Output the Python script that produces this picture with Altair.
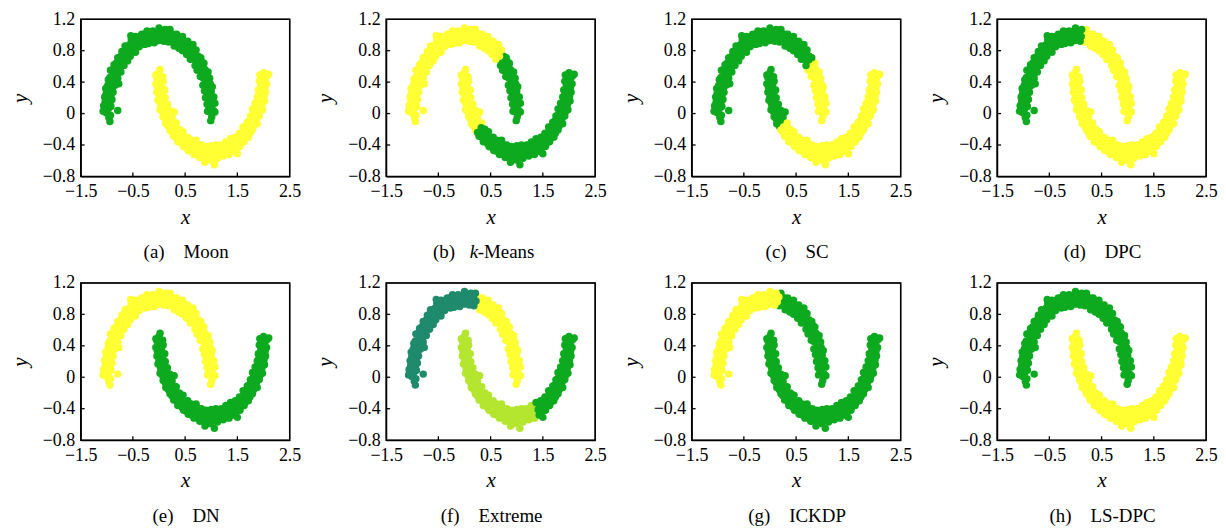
import altair as alt
import pandas as pd

# ---- data (same two-moon point set in every panel) ----
upper_x = [0.93, 1.01, 1.07, 0.99, 0.96, 1.04, 0.92, 0.99, 1.07, 0.96, 1.04, 0.89, 0.97, 1.05, 0.92, 1.00,
           0.87, 0.95, 1.02, 0.89, 0.98, 0.84, 0.91, 0.97, 0.85, 0.94, 0.79, 0.87, 0.94, 0.80, 0.88, 0.73,
           0.81, 0.86, 0.74, 0.82, 0.69, 0.74, 0.80, 0.67, 0.75, 0.60, 0.67, 0.71, 0.61, 0.64, 0.53, 0.59,
           0.65, 0.51, 0.58, 0.45, 0.50, 0.55, 0.43, 0.48, 0.38, 0.40, 0.45, 0.33, 0.38, 0.29, 0.30, 0.34,
           0.24, 0.28, 0.18, 0.22, 0.21, 0.14, 0.17, 0.09, 0.11, 0.12, 0.04, 0.06, -0.01, 0.01, 0.00, -0.06,
           -0.04, -0.09, -0.11, -0.12, -0.16, -0.15, -0.20, -0.20, -0.23, -0.24, -0.28, -0.27, -0.32, -0.33,
           -0.35, -0.36, -0.38, -0.40, -0.45, -0.43, -0.48, -0.45, -0.51, -0.53, -0.54, -0.53, -0.56, -0.55,
           -0.58, -0.65, -0.61, -0.64, -0.60, -0.67, -0.71, -0.69, -0.73, -0.67, -0.75, -0.79, -0.74, -0.82,
           -0.73, -0.81, -0.86, -0.80, -0.88, -0.79, -0.86, -0.93, -0.85, -0.94, -0.84, -0.91, -0.97, -0.77,
           -0.89, -0.98, -0.88, -0.95, -1.02, -0.92, -1.01, -0.90, -0.96, -1.04, -0.94, -1.03, -0.92, -0.99,
           -1.06, -0.97, -1.03, -0.93, -1.01, -1.07, -0.96, -0.79, -0.94]
upper_y = [0.03, -0.04, 0.02, -0.09, 0.07, 0.04, 0.12, 0.08, 0.13, 0.17, 0.14, 0.20, 0.23, 0.21, 0.24, 0.28,
           0.29, 0.30, 0.34, 0.35, 0.38, 0.36, 0.41, 0.45, 0.45, 0.46, 0.47, 0.51, 0.53, 0.53, 0.56, 0.55,
           0.59, 0.64, 0.61, 0.66, 0.61, 0.68, 0.71, 0.69, 0.73, 0.69, 0.73, 0.81, 0.74, 0.82, 0.75, 0.80,
           0.88, 0.82, 0.86, 0.80, 0.85, 0.92, 0.87, 0.92, 0.83, 0.92, 0.98, 0.91, 0.96, 0.86, 0.95, 1.01,
           0.94, 1.01, 0.91, 0.97, 1.07, 0.96, 1.02, 0.92, 0.98, 1.07, 0.95, 1.05, 0.93, 1.00, 1.09, 0.97,
           1.03, 0.90, 0.99, 1.05, 0.94, 1.04, 0.89, 0.99, 1.05, 0.92, 1.01, 0.88, 0.93, 1.01,
           0.89, 0.98, 0.85, 0.90, 0.98, 0.85, 0.93, 0.78, 0.86, 0.94, 0.99, 0.80, 0.88, 0.73,
           0.82, 0.86, 0.74, 0.80, 0.67, 0.73, 0.79, 0.67, 0.73, 0.61, 0.66, 0.71, 0.59, 0.64,
           0.53, 0.57, 0.62, 0.51, 0.56, 0.45, 0.49, 0.55, 0.43, 0.46, 0.36, 0.39, 0.43, 0.38,
           0.33, 0.36, 0.27, 0.30, 0.32, 0.24, 0.26, 0.18, 0.20, 0.21, 0.14, 0.15, 0.09, 0.11,
           0.10, 0.06, 0.04, -0.02, 0.01, 0.03, -0.05, 0.04, -0.10]
lower_x = [0.07, 0.00, -0.06, 0.02, 0.03, -0.04, 0.08, 0.01, -0.06, 0.05, -0.03, 0.11, 0.03, -0.04, 0.07, 0.00,
           0.12, 0.05, -0.02, 0.09, 0.03, 0.16, 0.09, 0.02, 0.15, 0.07, 0.21, 0.14, 0.08, 0.29, 0.20, 0.12,
           0.25, 0.19, 0.13, 0.26, 0.18, 0.33, 0.26, 0.21, 0.32, 0.25, 0.39, 0.33, 0.28, 0.41, 0.35, 0.46,
           0.42, 0.36, 0.48, 0.44, 0.55, 0.50, 0.47, 0.57, 0.52, 0.71, 0.62, 0.60, 0.56, 0.66, 0.62, 0.72,
           0.69, 0.67, 0.75, 0.73, 0.81, 0.80, 0.78, 0.85, 0.83, 0.90, 0.91, 0.88, 0.88, 0.95, 0.96, 1.00,
           1.01, 0.99, 1.06, 1.04, 1.06, 1.09, 1.11, 1.12, 1.15, 1.17, 1.19, 1.21, 1.23, 1.25, 1.27, 1.28,
           1.31, 1.34, 1.35, 1.36, 1.37, 1.41, 1.43, 1.44, 1.48, 1.50, 1.46, 1.50, 1.55, 1.53, 1.56, 1.54,
           1.59, 1.63, 1.61, 1.66, 1.61, 1.67, 1.71, 1.68, 1.74, 1.69, 1.75, 1.79, 1.74, 1.81, 1.75, 1.80,
           1.88, 1.80, 1.87, 1.79, 1.86, 1.92, 1.86, 1.93, 1.84, 1.91, 1.98, 1.90, 1.97, 1.88, 1.95, 2.02,
           1.92, 2.01, 1.90, 1.97, 2.04, 1.95, 2.03, 1.92, 2.00, 2.06, 1.96, 2.04, 1.93, 2.00, 2.07, 2.10]
lower_y = [0.47, 0.52, 0.49, 0.56, 0.44, 0.46, 0.41, 0.39, 0.38, 0.36, 0.33, 0.30, 0.29, 0.27, 0.26, 0.22,
           0.20, 0.18, 0.17, 0.16, 0.12, 0.12, 0.10, 0.05, 0.07, 0.02, 0.04, 0.00, -0.04, 0.02, -0.01, -0.07,
           -0.05, -0.10, -0.13, -0.11, -0.16, -0.12, -0.17, -0.21, -0.18, -0.24, -0.20, -0.25, -0.29, -0.26,
           -0.31, -0.23, -0.31, -0.36, -0.32, -0.38, -0.30, -0.36, -0.42, -0.37, -0.43, -0.34, -0.34, -0.42,
           -0.47, -0.41, -0.48, -0.38, -0.45, -0.52, -0.42, -0.51, -0.40, -0.47, -0.56, -0.45, -0.53, -0.42,
           -0.50, -0.57, -0.62, -0.47, -0.54, -0.41, -0.50, -0.59, -0.65, -0.45, -0.55, -0.40, -0.49, -0.57,
           -0.46, -0.52, -0.40, -0.49, -0.54, -0.44, -0.49, -0.36, -0.46, -0.52, -0.39, -0.47, -0.32, -0.41,
           -0.48, -0.35, -0.44, -0.51, -0.30, -0.37, -0.42, -0.30, -0.38, -0.25, -0.30, -0.36, -0.24, -0.31,
           -0.17, -0.23, -0.30, -0.18, -0.25, -0.11, -0.18, -0.21, -0.09, -0.16, -0.03, -0.10, -0.13, -0.01,
           -0.06, 0.06, 0.00, -0.03, 0.07, 0.02, 0.13, 0.10, 0.05, 0.17, 0.12, 0.21, 0.20, 0.16, 0.26, 0.22,
           0.30, 0.29, 0.27, 0.36, 0.33, 0.41, 0.39, 0.38, 0.44, 0.46, 0.49, 0.52, 0.48, 0.50]

x_ticks = [-1.5, -0.5, 0.5, 1.5, 2.5]
y_ticks = [-0.8, -0.4, 0, 0.4, 0.8, 1.2]
x_inner_ticks = [-0.5, 0.5, 1.5]
y_inner_ticks = [-0.4, 0, 0.4, 0.8]

letters = ["a", "b", "c", "d", "e", "f", "g", "h"]
names = ["Moon", "k-Means", "SC", "DPC", "DN", "Extreme", "ICKDP", "LS-DPC"]

# cluster runs along each moon (points ordered along the arc); None = the rest
upper_runs = [[("G", None)],
              [("G", 41), ("Y", None)],
              [("Y", 36), ("G", None)],
              [("Y", 71), ("G", None)],
              [("Y", None)],
              [("Y", 66), ("T", None)],
              [("G", 69), ("Y", None)],
              [("G", None)]]
lower_runs = [[("Y", None)],
              [("Y", 40), ("G", None)],
              [("G", 37), ("Y", None)],
              [("Y", None)],
              [("G", None)],
              [("L", 100), ("G", None)],
              [("G", None)],
              [("Y", None)]]
palette = {"G": "#0daa1f", "Y": "#ffff33", "T": "#1f8a6c", "L": "#b5e62f"}

FONT = "Liberation Serif"
W, H = 210, 158
xs = alt.Scale(domain=[-1.5, 2.5], nice=False, zero=False)
ys = alt.Scale(domain=[-0.8, 1.2], nice=False, zero=False)
axis_style = dict(grid=False, ticks=False, domain=True, domainColor="#000000", domainWidth=1.3,
                  labelFlush=False, labelFont=FONT, labelFontSize=18, labelColor="#000000",
                  titleFont=FONT, titleFontSize=21, titleFontStyle="italic",
                  titleFontWeight="normal", titleColor="#000000")
x_axis = alt.Axis(values=x_ticks, format=".1f", title="x", labelPadding=6, titlePadding=6, **axis_style)
y_axis = alt.Axis(values=y_ticks, labelExpr="format(datum.value, '.1~f')", title="y",
                  labelPadding=6, titlePadding=12, **axis_style)


def expand(runs, n):
    out = []
    for c, k in runs:
        k = n - len(out) if k is None else k
        out += [c] * k
    return out


def text_layer(t, x, y, align, italic=False):
    kw = dict(font=FONT, fontSize=19, align=align, baseline="middle", color="#000000")
    if italic:
        kw["fontStyle"] = "italic"
    return alt.Chart(pd.DataFrame({"t": [t]})).mark_text(**kw).encode(
        text="t:N", x=alt.value(x), y=alt.value(y))


def panel(i):
    labels = expand(upper_runs[i], len(upper_x)) + expand(lower_runs[i], len(lower_x))
    df = pd.DataFrame({"x": upper_x + lower_x, "y": upper_y + lower_y,
                       "c": [palette[c] for c in labels]})
    pts = alt.Chart(df).mark_circle(size=56, opacity=1).encode(
        x=alt.X("x:Q", scale=xs, axis=x_axis),
        y=alt.Y("y:Q", scale=ys, axis=y_axis),
        color=alt.Color("c:N", scale=None),
    )
    xt = alt.Chart(pd.DataFrame({"x": x_inner_ticks})).mark_rule(
        color="#000000", strokeWidth=1.3, opacity=1).encode(
        x=alt.X("x:Q", scale=xs, axis=x_axis), y=alt.value(H), y2=alt.value(H - 4))
    yt = alt.Chart(pd.DataFrame({"y": y_inner_ticks})).mark_rule(
        color="#000000", strokeWidth=1.3, opacity=1).encode(
        y=alt.Y("y:Q", scale=ys, axis=y_axis), x=alt.value(0), x2=alt.value(4))
    frame = alt.Chart(pd.DataFrame({"f": [0]})).mark_rect(
        fill="#ffffff", fillOpacity=0, stroke="#000000", strokeWidth=1.3, strokeOpacity=1).encode(
        x=alt.value(0), x2=alt.value(W), y=alt.value(0), y2=alt.value(H))
    layers = [pts, xt, yt, frame]
    cap_y = H + 76
    if names[i] == "k-Means":
        layers.append(text_layer("(b)", 47, cap_y, "left"))
        layers.append(text_layer("k", 84, cap_y, "left", italic=True))
        layers.append(text_layer("-Means", 92, cap_y, "left"))
    else:
        layers.append(text_layer(f"({letters[i]})\u2003{names[i]}", W / 2 + 1, cap_y, "center"))
    return alt.layer(*layers).properties(width=W, height=H)


# full bounds: the gaps below are measured between the panels' outer extents
chart = alt.concat(*[panel(i) for i in range(8)], columns=4,
                   spacing={"row": 10, "column": 12}).properties(
    padding=0
).configure_view(stroke="#000000", strokeWidth=1.3)

chart.save("out.html", embed_options={"renderer": "svg", "actions": False})
